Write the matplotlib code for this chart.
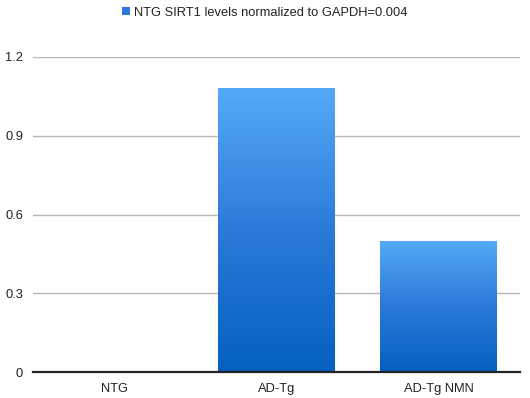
import numpy as np
import matplotlib.pyplot as plt
from matplotlib.colors import LinearSegmentedColormap

categories = ['NTG', 'AD-Tg', 'AD-Tg NMN']
values = [0.004, 1.08, 0.5]
yticks = [0, 0.3, 0.6, 0.9, 1.2]
legend_label = 'NTG SIRT1 levels normalized to GAPDH=0.004'

plt.rcParams['font.family'] = ['Liberation Sans', 'DejaVu Sans']

fig = plt.figure(figsize=(5.3, 3.98), dpi=100)
ax = fig.add_axes([0.062, 0.065, 0.919, 0.792])

cmap = LinearSegmentedColormap.from_list('blues', ['#0560c0', '#2a7ad8', '#55aaf8'])
grad = np.linspace(0, 1, 256).reshape(-1, 1)

x = np.arange(len(categories))
width = 0.72
bars = ax.bar(x, values, width, color='none', edgecolor='none', zorder=3)
for b in bars:
    x0 = b.get_x()
    h = b.get_height()
    im = ax.imshow(grad, extent=[x0, x0 + b.get_width(), 0, h], origin='lower',
                   aspect='auto', cmap=cmap, zorder=3, interpolation='bilinear')
    im.set_clip_path(b)

ax.set_xlim(-0.5, len(categories) - 0.5)
ax.set_ylim(0, 1.2)
ax.set_yticks(yticks)
ax.set_yticklabels(['0', '0.3', '0.6', '0.9', '1.2'])
ax.set_xticks(x)
ax.set_xticklabels(categories)
ax.tick_params(axis='both', length=0, labelsize=9.3, colors='#222222')
ax.tick_params(axis='y', pad=7)
ax.tick_params(axis='x', pad=8)
ax.yaxis.grid(True, color='#b7b7b7', linewidth=1)
ax.set_axisbelow(True)
for s in ['top', 'right', 'left']:
    ax.spines[s].set_visible(False)
# the tiny NTG bar sits under the baseline, as in the original
ax.spines['bottom'].set_color('#222222')
ax.spines['bottom'].set_linewidth(1.6)
ax.spines['bottom'].set_zorder(4)

handle = plt.Rectangle((0, 0), 1, 1, facecolor='#2a7ad8')
fig.legend([handle], [legend_label], loc='upper center', bbox_to_anchor=(0.5, 1.012),
           frameon=False, fontsize=9.3, handlelength=0.6, handleheight=0.6,
           handletextpad=0.3, labelcolor='#222222')

fig.savefig('out.png', dpi=100)
